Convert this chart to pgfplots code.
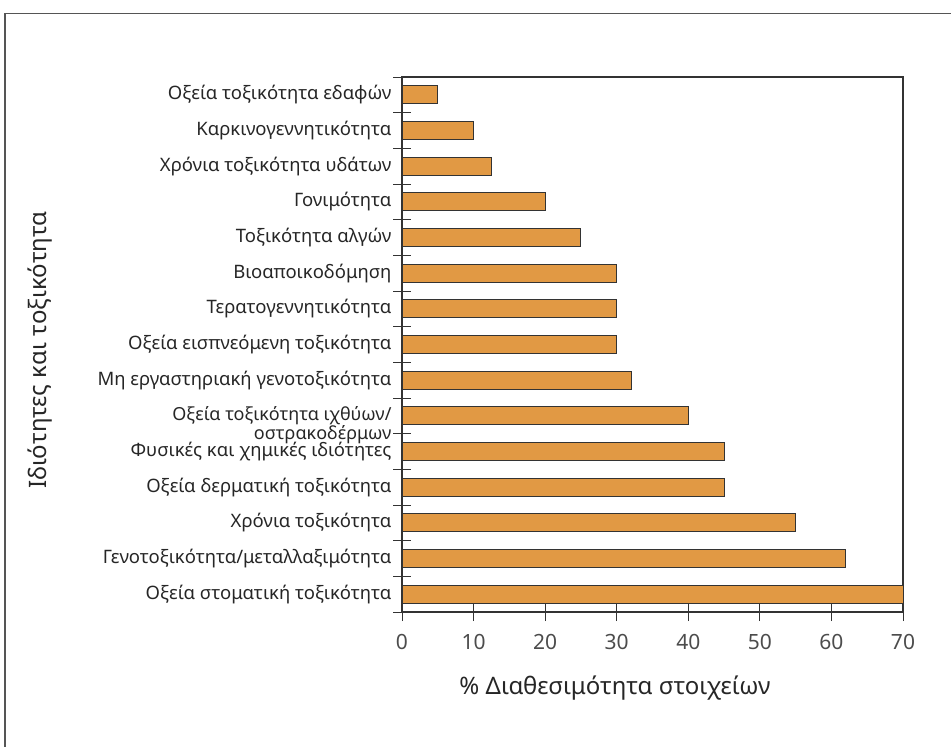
\documentclass[border=0pt]{standalone}
\usepackage{pgfplots}
\pgfplotsset{compat=1.18}
\usepackage{fontspec}
\setmainfont{Noto Sans}
\definecolor{barfill}{HTML}{E19944}
\definecolor{framegray}{HTML}{555555}
\definecolor{axisgray}{HTML}{333333}
\begin{document}
\begin{tikzpicture}
\path[use as bounding box] (0pt,0pt) rectangle (951pt,-747pt);
\draw[framegray, line width=1.5pt] (5pt,-760pt) -- (5pt,-13.5pt) -- (960pt,-13.5pt);
\begin{axis}[
  at={(402pt,-612pt)}, anchor=south west, scale only axis,
  width=501pt, height=535pt,
  xmin=0, xmax=70, ymin=-0.5, ymax=14.5, y dir=reverse,
  xbar, bar width=18pt, bar shift=0pt,
  xtick={0,10,...,70},
  tick pos=left,
  tick align=center, major tick length=18pt,
  ytick={-0.5,0.5,...,14.5}, yticklabels={},
  extra y ticks={0,1,...,14},
  extra y tick labels={
    Οξεία τοξικότητα εδαφών,
    Καρκινογεννητικότητα,
    Χρόνια τοξικότητα υδάτων,
    Γονιμότητα,
    Τοξικότητα αλγών,
    Βιοαποικοδόμηση,
    Τερατογεννητικότητα,
    Οξεία εισπνεόμενη τοξικότητα,
    Μη εργαστηριακή γενοτοξικότητα,
    {\raisebox{2pt}[\height][0pt]{\fontsize{18}{15.5}\selectfont\begin{tabular}[t]{@{}r@{}}Οξεία τοξικότητα ιχθύων/\\οστρακοδέρμων\hspace{13pt}\end{tabular}}},
    Φυσικές και χημικές ιδιότητες,
    Οξεία δερματική τοξικότητα,
    Χρόνια τοξικότητα,
    Γενοτοξικότητα/μεταλλαξιμότητα,
    Οξεία στοματική τοξικότητα},
  extra y tick style={major tick length=0pt, tick label style={xshift=-7pt}},
  yticklabel style={font=\fontsize{18.5}{18.5}\selectfont, text=black!85},
  xticklabel style={font=\fontsize{21}{22}\selectfont, text=black!70, yshift=-10pt},
  /pgf/number format/assume math mode=true,
  axis line style={axisgray, line width=1.2pt},
  every tick/.style={axisgray, line width=1pt},
  clip=false,
]
\addplot[fill=barfill, draw=axisgray, line width=0.9pt] coordinates {
  (5,0) (10,1) (12.5,2) (20,3) (25,4) (30,5) (30,6) (30,7) (32,8) (40,9)
  (45,10) (45,11) (55,12) (62,13) (70,14)};
\end{axis}
\node[font=\fontsize{24}{26}\selectfont, text=black!85] at (615pt,-688pt) {\% Διαθεσιμότητα στοιχείων};
\node[font=\fontsize{24}{26}\selectfont, text=black!85, rotate=90] at (40pt,-350pt) {Ιδιότητες και τοξικότητα};
\end{tikzpicture}
\end{document}
